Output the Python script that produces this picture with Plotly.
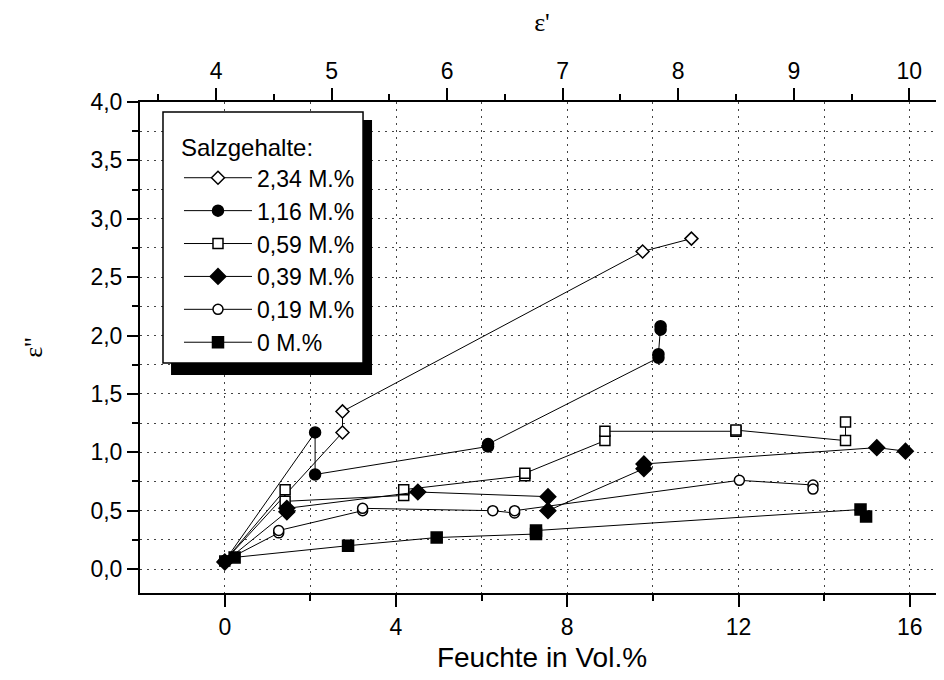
import plotly.graph_objects as go

# ---- data (Feuchte in Vol.% vs. epsilon'') ----
series_names = ["2,34 M.%", "1,16 M.%", "0,59 M.%", "0,39 M.%", "0,19 M.%", "0 M.%"]

x_234 = [0.0, 2.75, 2.75, 9.76, 10.9]
y_234 = [0.07, 1.17, 1.35, 2.72, 2.83]

x_116 = [0.0, 2.11, 2.11, 6.15, 6.15, 10.13, 10.13, 10.18, 10.18]
y_116 = [0.07, 1.17, 0.81, 1.05, 1.07, 1.81, 1.84, 2.05, 2.08]

x_059 = [0.0, 1.41, 1.41, 4.18, 4.18, 7.01, 7.01, 8.88, 8.88, 11.94, 11.94, 14.5, 14.5]
y_059 = [0.07, 0.68, 0.58, 0.63, 0.68, 0.80, 0.82, 1.10, 1.18, 1.18, 1.19, 1.10, 1.26]

x_039 = [0.0, 1.45, 1.45, 4.51, 7.55, 7.55, 9.79, 9.79, 15.23, 15.9]
y_039 = [0.06, 0.49, 0.52, 0.66, 0.62, 0.50, 0.86, 0.90, 1.04, 1.01]

x_019 = [0.0, 1.26, 1.26, 3.22, 3.22, 6.26, 6.77, 6.77, 12.02, 13.74, 13.74]
y_019 = [0.07, 0.31, 0.33, 0.50, 0.52, 0.50, 0.48, 0.50, 0.76, 0.72, 0.685]

x_0 = [0.23, 2.88, 4.95, 7.27, 7.27, 14.85, 14.98]
y_0 = [0.10, 0.20, 0.27, 0.30, 0.33, 0.51, 0.45]

# ---- axis ticks ----
x_ticks = [0, 4, 8, 12, 16]
x_tick_text = ["0", "4", "8", "12", "16"]
top_ticks = [4, 5, 6, 7, 8, 9, 10]
top_tick_text = ["4", "5", "6", "7", "8", "9", "10"]
y_ticks = [0.0, 0.5, 1.0, 1.5, 2.0, 2.5, 3.0, 3.5, 4.0]
y_tick_text = ["0,0", "0,5", "1,0", "1,5", "2,0", "2,5", "3,0", "3,5", "4,0"]

xs = [x_234, x_116, x_059, x_039, x_019, x_0]
ys = [y_234, y_116, y_059, y_039, y_019, y_0]
styles = [
    dict(symbol="diamond", color="white", size=10),
    dict(symbol="circle", color="black", size=11),
    dict(symbol="square", color="white", size=10),
    dict(symbol="diamond", color="black", size=12),
    dict(symbol="circle", color="white", size=10),
    dict(symbol="square", color="black", size=11),
]
# draw open-symbol series first so filled symbols sit on top (as in the original)
draw_order = [0, 2, 4, 1, 3, 5]

fig = go.Figure()
for i in draw_order:
    st = styles[i]
    fig.add_trace(go.Scatter(
        x=xs[i], y=ys[i], name=series_names[i], mode="lines+markers",
        legendgroup=f"g{i}", legendrank=i + 1,
        line=dict(color="black", width=1),
        marker=dict(symbol=st["symbol"], size=st["size"], color=st["color"],
                    line=dict(color="black", width=1.5)),
    ))

# invisible trace to activate the top axis
fig.add_trace(go.Scatter(x=[None], y=[None], xaxis="x2", yaxis="y",
                         showlegend=False, hoverinfo="skip"))

grid_dash = "2px,5px"
grid_col = "#444444"
sans = "Liberation Sans, Arial, sans-serif"
serif = "Liberation Serif, Times New Roman, serif"
tick_font = dict(family=sans, size=23, color="black")

fig.update_layout(
    width=936, height=672,
    margin=dict(l=132, r=0, t=94, b=87),
    plot_bgcolor="white", paper_bgcolor="white",
    font=dict(family=sans, color="black"),
    xaxis=dict(
        range=[-1.98, 16.8], tickmode="array", tickvals=x_ticks, ticktext=x_tick_text,
        ticks="outside", ticklen=12, tickwidth=1.5, tickcolor="black",
        showline=True, linewidth=2, linecolor="black", zeroline=False,
        showgrid=True, gridcolor=grid_col, griddash=grid_dash, gridwidth=1,
        minor=dict(tick0=0, dtick=2, ticks="outside", ticklen=6, tickwidth=1.5,
                   tickcolor="black", showgrid=True, gridcolor=grid_col,
                   griddash=grid_dash, gridwidth=1),
        tickfont=tick_font,
        title=dict(text="Feuchte in Vol.%", standoff=9,
                   font=dict(family=sans, size=28)),
        automargin=False,
    ),
    xaxis2=dict(
        overlaying="x", side="top", anchor="y", range=[3.342, 10.30],
        tickmode="array", tickvals=top_ticks, ticktext=top_tick_text,
        ticks="outside", ticklen=12, tickwidth=1.5, tickcolor="black",
        showline=True, linewidth=2, linecolor="black", zeroline=False, showgrid=False,
        minor=dict(tick0=3.5, dtick=0.5, ticks="outside", ticklen=6, tickwidth=1.5,
                   tickcolor="black", showgrid=False),
        tickfont=tick_font,
        title=dict(text="ε'", standoff=35,
                   font=dict(family=serif, size=26)),
        automargin=False,
    ),
    yaxis=dict(
        range=[-0.205, 4.0], tickmode="array", tickvals=y_ticks, ticktext=y_tick_text,
        ticks="outside", ticklen=11, tickwidth=1.5, tickcolor="black",
        showline=True, linewidth=2, linecolor="black", zeroline=False,
        showgrid=True, gridcolor=grid_col, griddash=grid_dash, gridwidth=1,
        minor=dict(tick0=0, dtick=0.25, ticks="outside", ticklen=6, tickwidth=1.5,
                   tickcolor="black", showgrid=True, gridcolor=grid_col,
                   griddash=grid_dash, gridwidth=1),
        tickfont=tick_font,
        title=dict(text="ε''", standoff=40,
                   font=dict(family=serif, size=26)),
        automargin=False,
    ),
    legend=dict(
        x=0.0485, y=0.953, xanchor="left", yanchor="top",
        bgcolor="rgba(0,0,0,0)", borderwidth=0,
        font=dict(family=sans, size=23, color="black"),
        title=dict(text="Salzgehalte:", font=dict(size=24)),
        tracegroupgap=0, itemwidth=68,
    ),
    showlegend=True,
)

# legend frame with drop shadow (drawn as shapes behind the transparent legend)
fig.add_shape(type="rect", xref="paper", yref="paper",
              x0=0.0386, x1=0.2886, y0=0.444, y1=0.9633,
              fillcolor="black", line=dict(width=0), layer="above")
fig.add_shape(type="rect", xref="paper", yref="paper",
              x0=0.0286, x1=0.2774, y0=0.4684, y1=0.9796,
              fillcolor="white", line=dict(color="black", width=1.5), layer="above")

fig.write_html("out.html")
